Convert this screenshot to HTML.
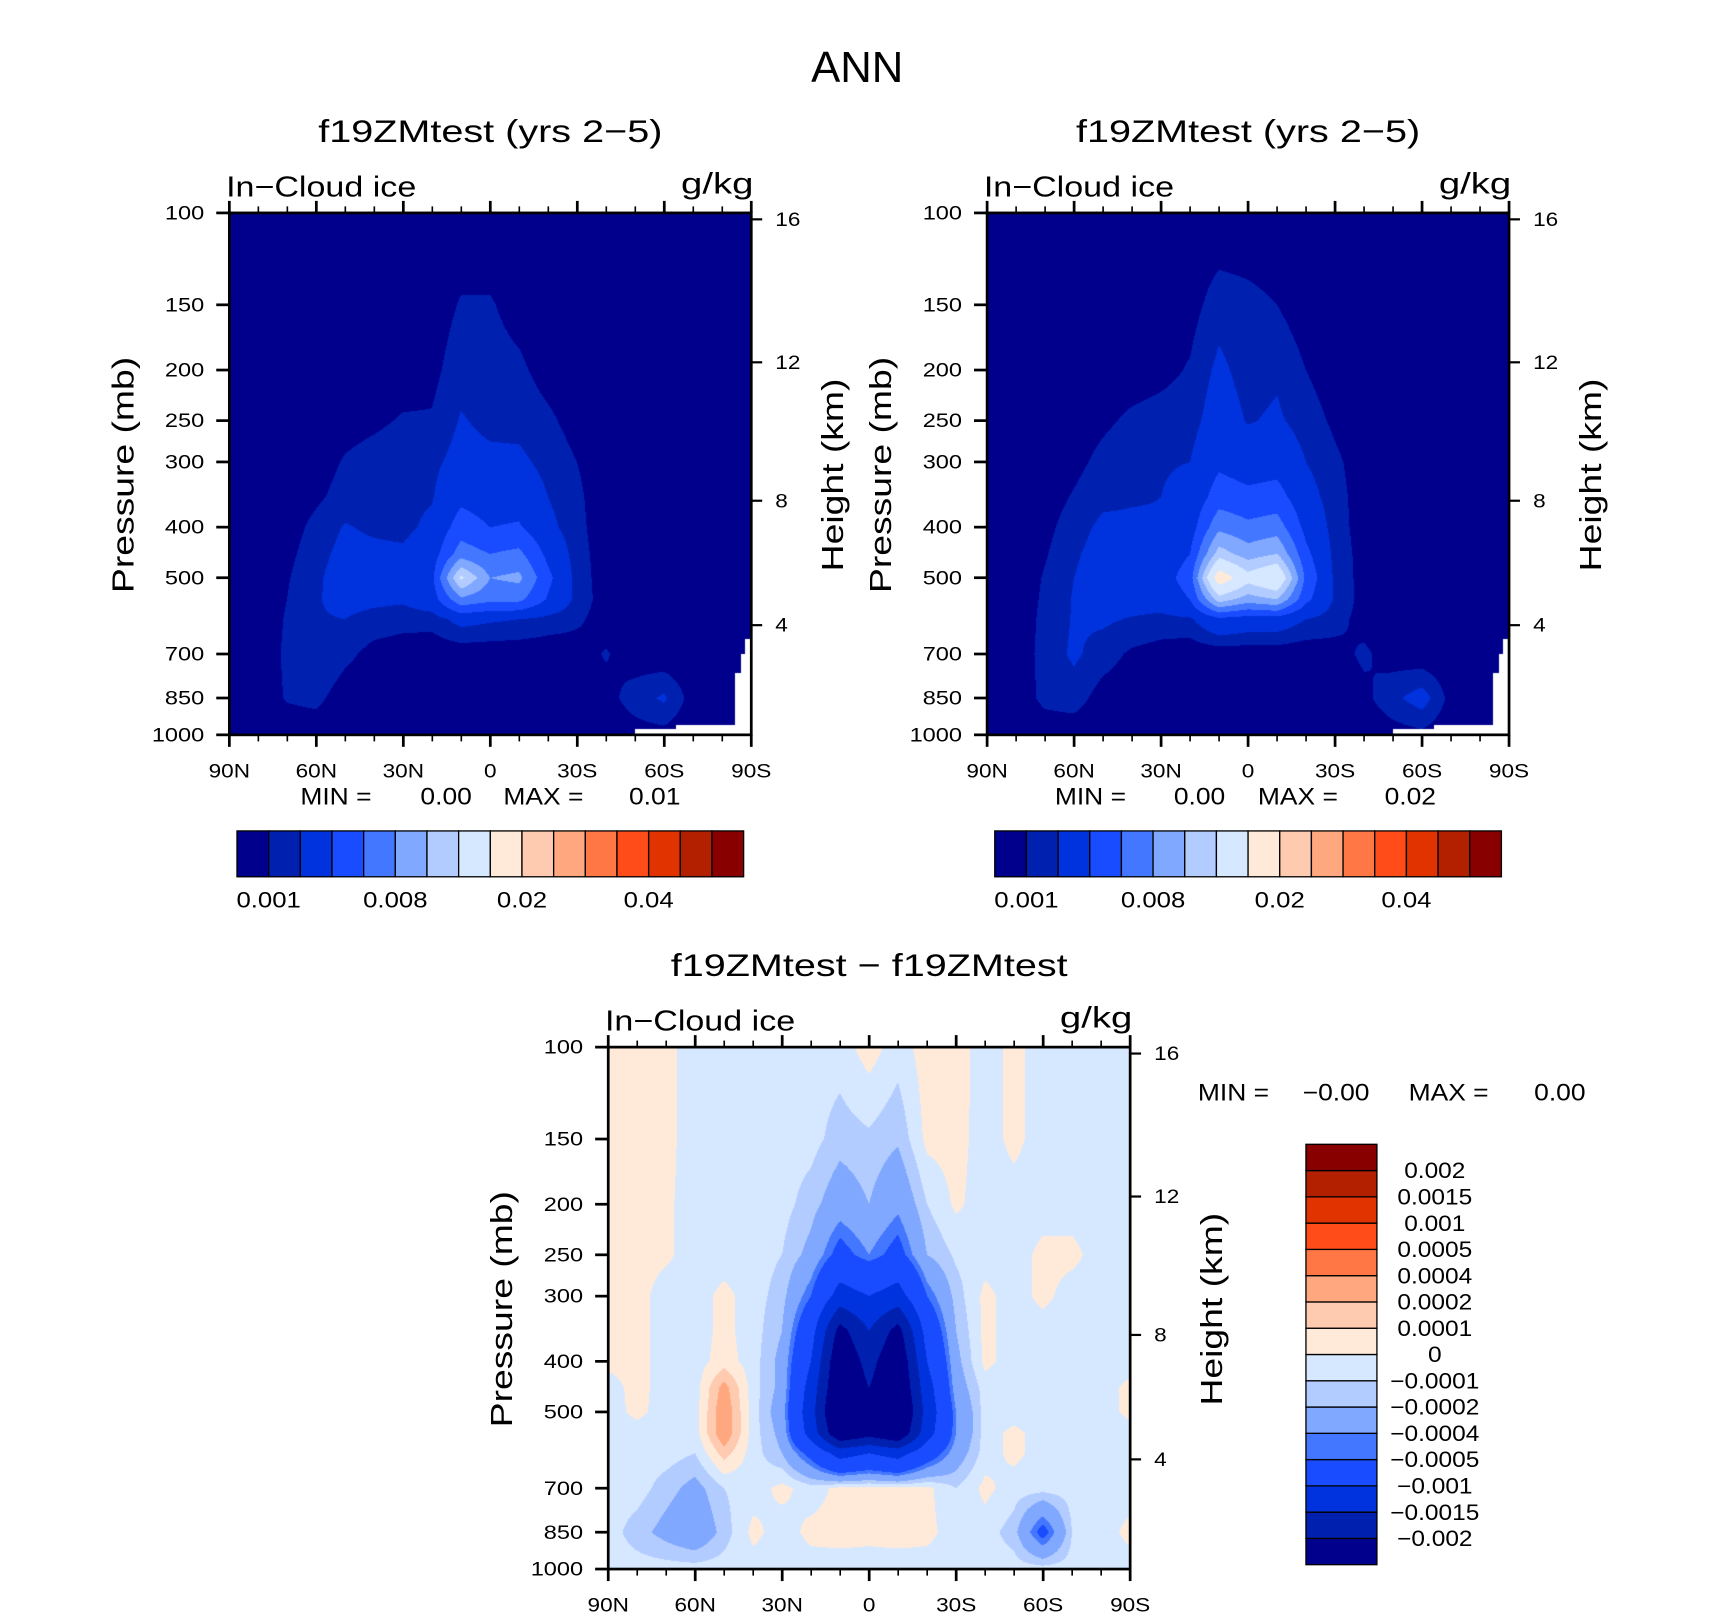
<!DOCTYPE html>
<html><head><meta charset="utf-8">
<style>
html,body{margin:0;padding:0;background:#fff;}
#wrap{position:relative;width:1710px;height:1616px;overflow:hidden;background:#fff;}
canvas{position:absolute;}
svg{position:absolute;left:0;top:0;}
text{font-family:"Liberation Sans",sans-serif;fill:#000;}
</style></head>
<body>
<div id="wrap">
<canvas id="c1"></canvas>
<canvas id="c2"></canvas>
<canvas id="c3"></canvas>
<svg id="ov" width="1710" height="1616" viewBox="0 0 1566 1480">
<text id="anntitle" x="785" y="75" font-size="40" text-anchor="middle">ANN</text>
</svg>
</div>
<script>
// ---------- data ----------
const lats = [90,80,70,60,50,40,30,20,10,0,-10,-20,-30,-40,-50,-60,-70,-80,-90];
const levels = [100,150,200,250,300,350,400,450,500,550,600,700,850,1000];
// left panel, units 0.001 g/kg
const fieldA = [
[.2,.2,.2,.2,.2,.2,.2,.2,.2,.2,.2,.2,.2,.2,.2,.2,.2,.2,.2],
[.2,.2,.2,.2,.2,.3,.3,.4,1.1,1.1,.6,.3,.2,.2,.2,.2,.2,.2,.2],
[.2,.2,.2,.2,.3,.4,.5,.7,1.6,1.4,1.2,.6,.3,.2,.2,.2,.2,.2,.2],
[.2,.2,.2,.3,.6,.8,1.1,1.1,2.1,1.7,1.6,1.2,.6,.2,.2,.2,.2,.2,.2],
[.2,.2,.3,.5,1.1,1.4,1.6,1.7,2.5,2.3,2.3,1.6,1.0,.4,.2,.2,.2,.2,.2],
[.2,.2,.4,.8,1.4,1.6,1.7,1.9,3.5,3.0,3.2,2.0,1.2,.4,.2,.2,.2,.2,.2],
[.2,.3,.5,1.3,2.1,1.8,1.7,2.3,5.0,4.0,4.2,2.4,1.3,.4,.2,.2,.2,.2,.2],
[.2,.3,.7,1.6,2.4,2.3,2.2,3.0,7.0,6.0,6.5,3.5,1.4,.5,.2,.2,.2,.2,.2],
[.2,.3,.9,1.8,2.6,2.5,2.3,3.5,12.5,8.0,8.5,4.5,1.5,.5,.2,.2,.2,.2,.2],
[.2,.3,1.0,1.9,2.4,2.3,2.2,3.0,7.5,6.5,6.5,3.8,1.6,.5,.2,.2,.2,.2,.2],
[.2,.3,1.1,1.9,2.0,1.6,1.4,1.4,2.5,2.2,2.0,1.6,1.2,.5,.2,.2,.2,.2,.2],
[.2,.3,1.2,2.0,1.3,.6,.4,.3,.3,.3,.3,.3,.5,1.1,.4,.2,.2,.2,.2],
[.2,.3,1.1,1.3,.4,.2,.2,.2,.2,.2,.2,.2,.2,.6,1.5,2.2,.5,.2,.2],
[.2,.2,.3,.3,.2,.2,.2,.2,.2,.2,.2,.2,.2,.2,.5,.6,.2,.2,.2]
];
// right panel, units 0.001 g/kg
const fieldB = [
[.2,.2,.2,.2,.2,.2,.2,.2,.2,.2,.2,.2,.2,.2,.2,.2,.2,.2,.2],
[.2,.2,.2,.2,.2,.3,.4,.6,1.5,1.3,1.0,.4,.2,.2,.2,.2,.2,.2,.2],
[.2,.2,.2,.2,.3,.5,.7,1.1,2.3,1.5,1.8,1.0,.4,.2,.2,.2,.2,.2,.2],
[.2,.2,.2,.4,.8,1.2,1.4,1.5,2.8,1.9,2.2,1.5,.8,.3,.2,.2,.2,.2,.2],
[.2,.2,.3,.7,1.3,1.7,1.9,2.0,3.6,3.0,3.2,2.0,1.2,.5,.2,.2,.2,.2,.2],
[.2,.2,.5,1.1,1.7,1.9,2.0,2.4,5.0,4.5,4.8,2.6,1.4,.5,.2,.2,.2,.2,.2],
[.2,.3,.7,1.5,2.3,2.2,2.1,3.0,7.5,6.5,7.0,3.4,1.5,.5,.2,.2,.2,.2,.2],
[.2,.3,.9,1.8,2.6,2.6,2.6,4.0,11,9,10,4.5,1.6,.6,.2,.2,.2,.2,.2],
[.2,.3,1.1,2.0,2.8,2.8,3.0,5.0,17,13,15,5.5,1.7,.6,.2,.2,.2,.2,.2],
[.2,.3,1.2,2.1,2.6,2.6,2.6,4.0,11,9,10,4.5,1.8,.6,.2,.2,.2,.2,.2],
[.2,.3,1.3,2.1,2.2,1.9,1.7,1.8,3.5,3,3,2,1.4,.6,.2,.2,.2,.2,.2],
[.2,.3,1.4,2.2,1.5,.8,.5,.3,.3,.3,.3,.3,.6,1.2,.5,.2,.2,.2,.2],
[.2,.3,1.3,1.5,.5,.2,.2,.2,.2,.2,.2,.2,.2,.7,1.7,2.6,.6,.2,.2],
[.2,.2,.3,.3,.2,.2,.2,.2,.2,.2,.2,.2,.2,.2,.5,.7,.2,.2,.2]
];
// difference panel, units 0.0001 g/kg
const fieldD = [
[.5,.5,.3,-.5,-.5,-.5,-.5,-.5,-.5,.5,-.5,.5,.5,-.5,.3,-.5,-.5,-.5,-.5],
[.5,.5,.3,-.5,-.5,-.5,-.5,-.6,-1.5,-1.2,-1.8,.3,.4,-.5,.3,-.5,-.5,-.5,-.5],
[.5,.5,.2,-.5,-.5,-.5,-.6,-1.5,-3,-2,-3.5,-1,.2,-.5,-.5,-.5,-.5,-.5,-.5],
[.5,.4,.2,-.5,-.5,-.5,-1,-2.5,-6,-4,-6,-2,-.8,-.5,-.5,.3,.3,-.5,-.5],
[.5,.4,-.5,-.5,.3,-.5,-1.5,-5,-12,-10,-12,-5,-1.5,.3,-.5,.3,-.5,-.5,-.5],
[.4,.4,-.5,-.5,.3,-.5,-2,-8,-22,-15,-22,-8,-2,.3,-.5,-.5,-.5,-.5,-.5],
[.3,.4,-.5,-.5,.5,-.5,-2.5,-10,-25,-18,-25,-10,-2.5,.3,-.5,-.5,-.5,-.5,-.5],
[-.5,.4,-.5,-.5,2.5,-.5,-2.5,-12,-26,-20,-26,-12,-3,-.5,-.5,-.5,-.5,-.5,.3],
[-.5,.3,-.5,-.5,3,-.5,-3,-13,-28,-24,-28,-13,-4,-.5,-.5,-.5,-.5,-.5,.3],
[-.5,-.5,-.5,-.5,3,-.5,-2.5,-12,-25,-22,-25,-12,-4,-.5,.3,-.5,-.5,-.5,-.5],
[-.5,-.5,-.5,-1,1.5,-.5,-2,-6,-12,-10,-12,-7,-3,-.5,.3,-.5,-.5,-.5,-.5],
[-.5,-.5,-1.5,-2.5,-1,-.5,.3,-.5,.3,.4,.3,.3,-1,.3,-.5,-.5,-.5,-.5,-.5],
[-.5,-1.5,-2.5,-3.5,-1.5,.3,-.5,.3,.4,.3,.4,.3,-.5,-.5,-1.5,-6,-1,-.5,.3],
[-.5,-.5,-.5,-.5,-.5,-.5,-.5,-.5,-.5,-.5,-.5,-.5,-.5,-.5,-.5,-.5,-.5,-.5,-.5]
];
const contourLevels = [0.001,0.002,0.004,0.006,0.008,0.01,0.012,0.015,0.02,0.025,0.03,0.035,0.04,0.045,0.05];
const contourLabels = ["0.001","0.008","0.02","0.04"];
const diffLevels = [-0.002,-0.0015,-0.001,-0.0005,-0.0004,-0.0002,-0.0001,0,0.0001,0.0002,0.0004,0.0005,0.001,0.0015,0.002];
const diffLabels = ["-0.002","-0.0015","-0.001","-0.0005","-0.0004","-0.0002","-0.0001","0","0.0001","0.0002","0.0004","0.0005","0.001","0.0015","0.002"];
const palette = ["#00008c","#0020b0","#0033dd","#1a4cff","#4477ff","#80a8ff","#b3ccff","#d6e8ff","#ffeada","#ffcbb0","#ffa880","#ff7744","#ff4c19","#e03300","#b32000","#880000"];
const maskLat = [-50,-64,-84.5,-86.4,-87.9];
const maskP = [975,955,760,700,655];
const pTicks = [100,150,200,250,300,400,500,700,850,1000];
const zTicks = [4,8,12,16];
const latTicks = [90,60,30,0,-30,-60,-90];
const latTickLabels = ["90N","60N","30N","0","30S","60S","90S"];

// ---------- helpers ----------
const S = 1710/1566;
const NS = "http://www.w3.org/2000/svg";
const svg = document.getElementById('ov');
const PW = 478;
function mk(tag, attrs, parent){
  const e = document.createElementNS(NS, tag);
  for (const k in attrs) e.setAttribute(k, attrs[k]);
  (parent||svg).appendChild(e);
  return e;
}
function widen(t, f){
  const L = t.getComputedTextLength();
  if (L>0){ t.setAttribute('textLength', (L*f).toFixed(1)); t.setAttribute('lengthAdjust','spacingAndGlyphs'); }
}
function yOfP(y0,p){ return y0 + PW*Math.log10(p/100); }
function xOfLat(x0,lat){ return x0 + PW*(90-lat)/180; }
function pOfZ(zkm){
  const z = zkm*1000;
  if (z<=11000) return 1013.25*Math.pow(1-2.25577e-5*z,5.25588);
  return 226.32*Math.exp(-(z-11000)/6341.6);
}
function colorIdx(v, lv){ let i=0; while(i<lv.length && v>=lv[i]) i++; return i; }
function hex(c){ return [parseInt(c.substr(1,2),16),parseInt(c.substr(3,2),16),parseInt(c.substr(5,2),16)]; }
const palRGB = palette.map(hex);
const logLev = levels.map(p=>Math.log10(p));

function renderField(id, x0, y0, grid, scale, lv, useMask){
  const cv = document.getElementById(id);
  const N = Math.round(PW*S);
  cv.width = N; cv.height = N;
  cv.style.left = (x0*S)+'px'; cv.style.top = (y0*S)+'px';
  cv.style.width = N+'px'; cv.style.height = N+'px';
  const ctx = cv.getContext('2d');
  const img = ctx.createImageData(N,N);
  for (let py=0; py<N; py++){
    const lp = 2 + (py+0.5)/N;
    const p = Math.pow(10,lp);
    let r=0; while(r<logLev.length-2 && lp>logLev[r+1]) r++;
    const t = Math.min(1,Math.max(0,(lp-logLev[r])/(logLev[r+1]-logLev[r])));
    for (let px=0; px<N; px++){
      const g = (px+0.5)/N;
      const lat = 90-180*g;
      const cf = g*(lats.length-1);
      let c = Math.min(lats.length-2, Math.floor(cf));
      const u = cf-c;
      const v = ((1-t)*((1-u)*grid[r][c]+u*grid[r][c+1]) + t*((1-u)*grid[r+1][c]+u*grid[r+1][c+1]))*scale;
      let rgb = palRGB[colorIdx(v,lv)];
      if (useMask){
        let mi=-1; for (let k=0;k<maskLat.length;k++) if (lat<=maskLat[k]) mi=k;
        if (mi>=0 && p>maskP[mi]) rgb=[255,255,255];
      }
      const o=(py*N+px)*4;
      img.data[o]=rgb[0]; img.data[o+1]=rgb[1]; img.data[o+2]=rgb[2]; img.data[o+3]=255;
    }
  }
  ctx.putImageData(img,0,0);
}

function axes(x0,y0,title,titleName){
  const g = mk('g',{});
  
  
  const tt = mk('text',{x:x0+PW/2,y:y0-65,'font-size':29,'text-anchor':'middle'},g);
  tt.textContent = title;
  
  
  widen(tt,1.25);
  const l = mk('text',{x:x0-3,y:y0-15,'font-size':26},g);
  l.textContent = 'In\u2212Cloud ice';
  
  
  widen(l,1.2);
  const u = mk('text',{x:x0+PW+2,y:y0-18,'font-size':27,'text-anchor':'end'},g);
  u.textContent = 'g/kg';
  
  
  widen(u,1.3);
  const fr = mk('rect',{x:x0,y:y0,width:PW,height:PW,fill:'none',stroke:'#000','stroke-width':2.5},g);
  
  
  for (let lat=90; lat>=-90; lat-=10){
    const x = xOfLat(x0,lat);
    const major = lat%30===0;
    const len = major?11:6;
    const t1 = mk('line',{x1:x,x2:x,y1:y0,y2:y0-len,stroke:'#000','stroke-width':major?2.5:1.5},g);
    
    
    const t2 = mk('line',{x1:x,x2:x,y1:y0+PW,y2:y0+PW+len,stroke:'#000','stroke-width':major?2.5:1.5},g);
    
    
  }
  latTicks.forEach((lat,i)=>{
    const t = mk('text',{x:xOfLat(x0,lat),y:y0+PW+39,'font-size':18,'text-anchor':'middle'},g);
    t.textContent = latTickLabels[i];
    
    
    widen(t,1.15);
  });
  pTicks.forEach(p=>{
    const y = yOfP(y0,p);
    const ln = mk('line',{x1:x0-12,x2:x0,y1:y,y2:y,stroke:'#000','stroke-width':2.5},g);
    
    
    const t = mk('text',{x:x0-23,y:y+6,'font-size':18,'text-anchor':'end'},g);
    t.textContent = String(p);
    
    
    widen(t,1.2);
  });
  zTicks.forEach(z=>{
    const y = yOfP(y0,pOfZ(z));
    const ln = mk('line',{x1:x0+PW,x2:x0+PW+10,y1:y,y2:y,stroke:'#000','stroke-width':2},g);
    
    
    const t = mk('text',{x:x0+PW+22,y:y+6,'font-size':18},g);
    t.textContent = String(z);
    
    
    widen(t,1.15);
  });
  const cy = y0+240;
  const pt = mk('text',{x:0,y:0,'font-size':28,'text-anchor':'middle',transform:`translate(${x0-88},${cy}) rotate(-90)`},g);
  pt.textContent = 'Pressure (mb)';
  
  
  widen(pt,1.22);
  const ht = mk('text',{x:0,y:0,'font-size':28,'text-anchor':'middle',transform:`translate(${x0+PW+84},${cy}) rotate(-90)`},g);
  ht.textContent = 'Height (km)';
  
  
  widen(ht,1.22);
}

function minmax(items){
  items.forEach(it=>{
    const t = mk('text',{x:it[0],y:it[1],'font-size':22,'text-anchor':it[3]||'start'});
    t.textContent = it[2];
    
    
    widen(t,1.1);
  });
}

function hColorbar(x0,y0,name){
  const g = mk('g',{});
  
  
  const w = 464/palette.length;
  palette.forEach((c,i)=>{
    const r = mk('rect',{x:x0+i*w,y:y0,width:w,height:42,fill:c,stroke:'#000','stroke-width':1.2},g);
    
    
  });
  contourLabels.forEach(lab=>{
    const i = contourLevels.indexOf(parseFloat(lab));
    const t = mk('text',{x:x0+(i+1)*w,y:y0+70,'font-size':20,'text-anchor':'middle'},g);
    t.textContent = lab;
    
    
    widen(t,1.18);
  });
}

function vColorbar(x0,y0,name){
  const g = mk('g',{});
  
  
  const h = 385/palette.length;
  palette.forEach((c,i)=>{
    const r = mk('rect',{x:x0,y:y0+(palette.length-1-i)*h,width:65,height:h,fill:c,stroke:'#000','stroke-width':1.2},g);
    
    
  });
  diffLabels.forEach((lab,i)=>{
    const y = y0+(palette.length-1-i)*h;
    const t = mk('text',{x:x0+118,y:y+7,'font-size':20,'text-anchor':'middle'},g);
    t.textContent = lab.replace('-','\u2212');
    
    
    widen(t,1.12);
  });
}

// ---------- draw ----------
renderField('c1',210,195,fieldA,0.001,contourLevels,true);
renderField('c2',904,195,fieldB,0.001,contourLevels,true);
renderField('c3',557,959,fieldD,0.0001,diffLevels,false);
axes(210,195,'f19ZMtest (yrs 2\u22125)','left-panel');
axes(904,195,'f19ZMtest (yrs 2\u22125)','right-panel');
axes(557,959,'f19ZMtest \u2212 f19ZMtest','difference-panel');
minmax([[275,737,'MIN  ='],[385,737,'0.00'],[461,737,'MAX  ='],[576,737,'0.01']]);
minmax([[966,737,'MIN  ='],[1075,737,'0.00'],[1152,737,'MAX  ='],[1268,737,'0.02']]);
minmax([[1097,1008,'MIN  ='],[1193,1008,'\u22120.00'],[1290,1008,'MAX  ='],[1405,1008,'0.00']]);
hColorbar(217,761,'left-colorbar');
hColorbar(911,761,'right-colorbar');
vColorbar(1196,1048,'difference-colorbar');
</script>
</body></html>
